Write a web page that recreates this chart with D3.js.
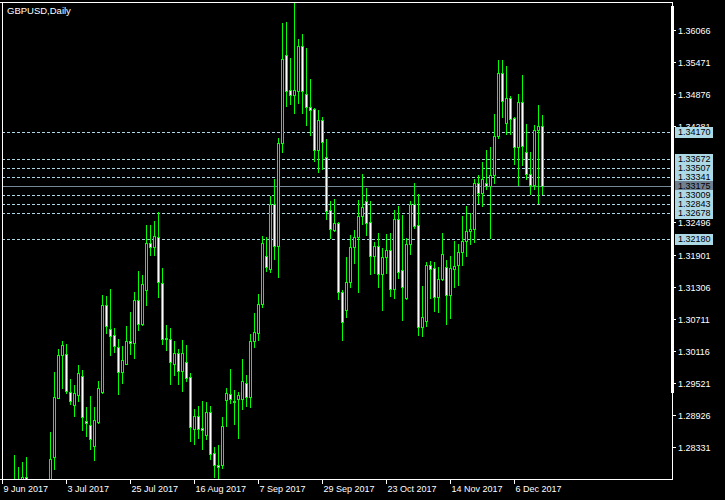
<!DOCTYPE html>
<html>
<head>
<meta charset="utf-8">
<script src="https://cdn.jsdelivr.net/npm/d3@7"></script>
<style>
html,body{margin:0;padding:0;background:#000;}
svg{display:block;}
text{font-family:"Liberation Sans",Arial,sans-serif;}
</style>
</head>
<body>
<svg id="chart" width="725" height="500"></svg>
<script>
const title = "GBPUSD,Daily";

const opens = [1.2735,1.2740,1.2660,1.2745,1.2735,1.2755,1.27781,1.2745,1.2720,1.2655,
1.2660,1.2715,1.2720,1.28146,1.29239,1.30035,1.30054,1.29350,1.29120,1.29300,
1.29646,1.28813,1.28739,1.28361,1.28806,1.29361,1.30961,1.30517,1.30406,1.30183,
1.29731,1.29868,1.30291,1.30269,1.31059,1.30624,1.31250,1.32106,1.32047,1.32221,
1.31369,1.30350,1.30332,1.29880,1.30072,1.29750,1.29906,1.29628,1.28665,1.28905,
1.28683,1.28553,1.28979,1.28220,1.27998,1.27998,1.29202,1.29313,1.29189,1.29220,
1.29220,1.29517,1.29257,1.30295,1.30454,1.30980,1.31869,1.31628,1.32838,1.32065,
1.33962,1.35592,1.34949,1.34862,1.34936,1.35764,1.34869,1.34634,1.34597,1.33843,
1.34388,1.33703,1.32721,1.32356,1.32480,1.31202,1.30869,1.31398,1.32036,1.32232,
1.32610,1.32888,1.32499,1.31880,1.32054,1.31547,1.31861,1.31980,1.31258,1.32554,
1.31610,1.31091,1.32091,1.32838,1.32443,1.30565,1.30676,1.31702,1.31647,1.31109,
1.31443,1.31665,1.31147,1.31639,1.31702,1.31943,1.32147,1.32332,1.32369,1.33221,
1.33036,1.33221,1.33165,1.33369,1.34091,1.35258,1.34332,1.34795,1.34425,1.33888,
1.34721,1.33806,1.33388,1.33184,1.34203,1.34277];

const highs = [1.2765,1.2760,1.2750,1.28189,1.27966,1.28059,1.28151,1.2770,1.2740,1.2700,
1.2730,1.2740,1.28615,1.29726,1.30146,1.30295,1.30244,1.29596,1.29485,1.29856,
1.29763,1.29072,1.29281,1.29078,1.29559,1.31147,1.31134,1.31263,1.30535,1.30337,
1.30207,1.30578,1.30837,1.31208,1.31597,1.31522,1.32449,1.32449,1.32523,1.32684,
1.31652,1.30596,1.30541,1.30300,1.30152,1.30319,1.30226,1.29702,1.29035,1.29096,
1.29189,1.29170,1.29096,1.28331,1.28368,1.28892,1.29424,1.29776,1.29387,1.29350,
1.29967,1.29665,1.30424,1.30819,1.31170,1.32239,1.32221,1.32986,1.33301,1.34060,
1.36190,1.36209,1.35542,1.36566,1.35894,1.35986,1.35727,1.35153,1.34610,1.34579,
1.34455,1.34041,1.32899,1.32930,1.32510,1.31245,1.31856,1.32263,1.32356,1.32912,
1.33393,1.33128,1.32893,1.32134,1.32295,1.32017,1.32282,1.32295,1.32726,1.32806,
1.32634,1.32202,1.32893,1.33227,1.33017,1.31319,1.31763,1.31782,1.31763,1.31671,
1.32300,1.31800,1.31874,1.32152,1.32097,1.32615,1.32801,1.32676,1.33295,1.33369,
1.33615,1.33838,1.33888,1.34505,1.35505,1.35505,1.35394,1.34838,1.34455,1.34875,
1.35227,1.34319,1.33806,1.34301,1.34671,1.34486];

const lows = [1.2650,1.2640,1.2630,1.2690,1.2640,1.2720,1.2730,1.2700,1.2640,1.2590,
1.2620,1.2680,1.2705,1.27935,1.29239,1.29435,1.29331,1.29133,1.28916,1.29194,
1.28652,1.28546,1.28305,1.28101,1.28781,1.29342,1.30454,1.30046,1.30102,1.29324,
1.29528,1.29868,1.30065,1.29991,1.30504,1.30596,1.30967,1.31893,1.31893,1.31121,
1.30244,1.30133,1.29509,1.29670,1.29509,1.29380,1.29565,1.28453,1.28398,1.28509,
1.28305,1.28490,1.28109,1.27787,1.27707,1.27942,1.28731,1.29146,1.28768,1.28509,
1.29046,1.29102,1.29083,1.30183,1.30319,1.30935,1.31597,1.31584,1.31819,1.31491,
1.33806,1.34653,1.34690,1.34529,1.34714,1.34518,1.34301,1.34116,1.33640,1.33436,
1.33491,1.32565,1.32213,1.32337,1.31084,1.30319,1.30745,1.31306,1.31739,1.31208,
1.32467,1.32258,1.31541,1.31565,1.31306,1.30874,1.31554,1.31139,1.31102,1.31472,
1.30689,1.31078,1.31911,1.32399,1.30411,1.30398,1.30578,1.31091,1.30861,1.30843,
1.31430,1.30620,1.30732,1.31306,1.31343,1.31702,1.31869,1.32091,1.32128,1.32851,
1.32795,1.33110,1.32213,1.33221,1.34066,1.34455,1.34129,1.34129,1.33578,1.33189,
1.33560,1.33301,1.33017,1.33115,1.32851,1.33017];

const closes = [1.2745,1.2655,1.2740,1.2735,1.2755,1.27781,1.2745,1.2720,1.2655,1.2660,
1.2715,1.2720,1.28114,1.29257,1.30035,1.30220,1.29380,1.29183,1.29331,1.29702,
1.28898,1.28787,1.28479,1.28831,1.29424,1.30961,1.30572,1.30398,1.30213,1.29720,
1.29943,1.30295,1.30272,1.31059,1.30620,1.31350,1.32110,1.32050,1.32239,1.31398,
1.30343,1.30337,1.29917,1.30072,1.29750,1.30072,1.29620,1.28702,1.28905,1.28665,
1.28646,1.28979,1.28201,1.27998,1.27961,1.28720,1.29331,1.29220,1.29178,1.29294,
1.29554,1.29257,1.30295,1.30461,1.30980,1.32110,1.31665,1.32832,1.32065,1.33962,
1.35518,1.34936,1.34862,1.34949,1.35764,1.34925,1.34629,1.34584,1.33843,1.34393,
1.33980,1.32713,1.32369,1.32480,1.31202,1.30646,1.31398,1.32036,1.32232,1.32610,
1.32776,1.32491,1.31880,1.32054,1.31547,1.31850,1.31986,1.31258,1.32554,1.31584,
1.31295,1.32091,1.32838,1.32436,1.30565,1.30739,1.31702,1.31639,1.31109,1.31443,
1.31906,1.31147,1.31647,1.31684,1.31943,1.32147,1.32332,1.32369,1.33221,1.33036,
1.33295,1.33165,1.33369,1.34091,1.35258,1.34740,1.34795,1.34417,1.33888,1.34721,
1.33917,1.33388,1.33184,1.34203,1.34277,1.33175];

// price-scale labels that stay visible (others are hidden under the level boxes)
const priceTicks = [1.36066,1.35471,1.34876,1.34281,1.32496,1.31901,1.31306,1.30711,1.30116,1.29521,1.28926,1.28331];
const levelLines = [1.34170,1.33672,1.33507,1.33341,1.33009,1.32843,1.32678,1.32180];
const bidPrice = 1.33175;
const dateTickIndex = [0,16,32,48,64,80,96,112,128];
const dateTickLabels = ["9 Jun 2017","3 Jul 2017","25 Jul 2017","16 Aug 2017","7 Sep 2017","29 Sep 2017","23 Oct 2017","14 Nov 2017","6 Dec 2017"];

const bars = opens.map((o,i)=>({i, o, h:highs[i], l:lows[i], c:closes[i]}));

const svg = d3.select("#chart");
const L = 2, R = 672, T = 2, B = 479;

const x = d3.scaleLinear().domain([0, 135]).range([2, 542]);
const y = d3.scaleLinear().domain([1.28331, 1.36066]).range([447.3, 29.7]);

svg.append("rect").attr("width",725).attr("height",500).attr("fill","#000");

const defs = svg.append("defs");
defs.append("clipPath").attr("id","plot")
  .append("rect").attr("x",L+1).attr("y",T+1).attr("width",R-L-1).attr("height",B-T-1);

const plot = svg.append("g").attr("clip-path","url(#plot)").attr("shape-rendering","crispEdges");

// level lines
plot.selectAll("line.lvl").data(levelLines).enter().append("line")
  .attr("class","lvl")
  .attr("x1",L).attr("x2",R)
  .attr("y1",d=>Math.round(y(d))+0.5).attr("y2",d=>Math.round(y(d))+0.5)
  .attr("stroke","#add8e6").attr("stroke-width",1).attr("stroke-dasharray","3,2");

plot.append("line").attr("x1",L).attr("x2",R)
  .attr("y1",Math.round(y(bidPrice))+0.5).attr("y2",Math.round(y(bidPrice))+0.5)
  .attr("stroke","#778899").attr("stroke-width",1);

// wicks
plot.selectAll("line.wick").data(bars).enter().append("line")
  .attr("class","wick")
  .attr("x1",d=>Math.round(x(d.i))+0.5).attr("x2",d=>Math.round(x(d.i))+0.5)
  .attr("y1",d=>Math.round(y(d.h))).attr("y2",d=>Math.round(y(d.l))+1)
  .attr("stroke","#00ff00").attr("stroke-width",1);

// bodies
plot.selectAll("rect.body").data(bars).enter().append("rect")
  .attr("class","body")
  .attr("x",d=>Math.round(x(d.i))-1+0.5)
  .attr("width",2)
  .attr("y",d=>Math.round(y(Math.max(d.o,d.c)))+0.5)
  .attr("height",d=>Math.max(0, Math.round(y(Math.min(d.o,d.c))) - Math.round(y(Math.max(d.o,d.c)))))
  .attr("fill",d=>d.c>=d.o ? "#000" : "#fff")
  .attr("stroke","#00ff00").attr("stroke-width",1);

// frame
const fr = svg.append("g").attr("shape-rendering","crispEdges").attr("stroke","#fff").attr("stroke-width",1);
fr.append("line").attr("x1",0).attr("x2",R+1).attr("y1",T+0.5).attr("y2",T+0.5);
fr.append("line").attr("x1",0).attr("x2",R+1).attr("y1",B+0.5).attr("y2",B+0.5);
fr.append("line").attr("x1",L+0.5).attr("x2",L+0.5).attr("y1",T).attr("y2",B+5);
fr.append("line").attr("x1",R+0.5).attr("x2",R+0.5).attr("y1",T).attr("y2",B+1);
svg.append("rect").attr("x",671).attr("y",6).attr("width",3).attr("height",387).attr("fill","#fff");

// title
svg.append("text").attr("x",7).attr("y",14).attr("fill","#fff")
  .attr("font-size","9.5px").text(title);

// price axis
const yAxis = svg.append("g");
priceTicks.forEach(p=>{
  const yy = Math.round(y(p))+0.5;
  yAxis.append("line").attr("x1",R).attr("x2",R+4).attr("y1",yy).attr("y2",yy)
    .attr("stroke","#fff").attr("shape-rendering","crispEdges");
  yAxis.append("text").attr("x",678).attr("y",yy).attr("dy","0.35em")
    .attr("fill","#fff").attr("font-size","9px").text(p.toFixed(5));
});

// level labels (stacked boxes, later ones drawn over earlier ones)
const lab = svg.append("g");
levelLines.concat([bidPrice]).sort((a,b)=>b-a).forEach(p=>{
  const yy = Math.round(y(p));
  const isBid = p===bidPrice;
  lab.append("rect").attr("x",675).attr("y",yy-5).attr("width",38).attr("height",11)
    .attr("fill", isBid ? "#708090" : "#add8e6").attr("shape-rendering","crispEdges");
  lab.append("text").attr("x",678).attr("y",yy+0.5).attr("dy","0.33em")
    .attr("fill","#000").attr("font-size","9px").text(p.toFixed(5));
});

// date axis
const xAxis = svg.append("g");
dateTickIndex.forEach((idx,k)=>{
  const xx = Math.round(x(idx))+0.5;
  xAxis.append("line").attr("x1",xx).attr("x2",xx).attr("y1",B).attr("y2",B+5)
    .attr("stroke","#fff").attr("shape-rendering","crispEdges");
  xAxis.append("text").attr("x",xx+1).attr("y",492).attr("fill","#fff")
    .attr("font-size","9px").text(dateTickLabels[k]);
});
</script>
</body>
</html>
